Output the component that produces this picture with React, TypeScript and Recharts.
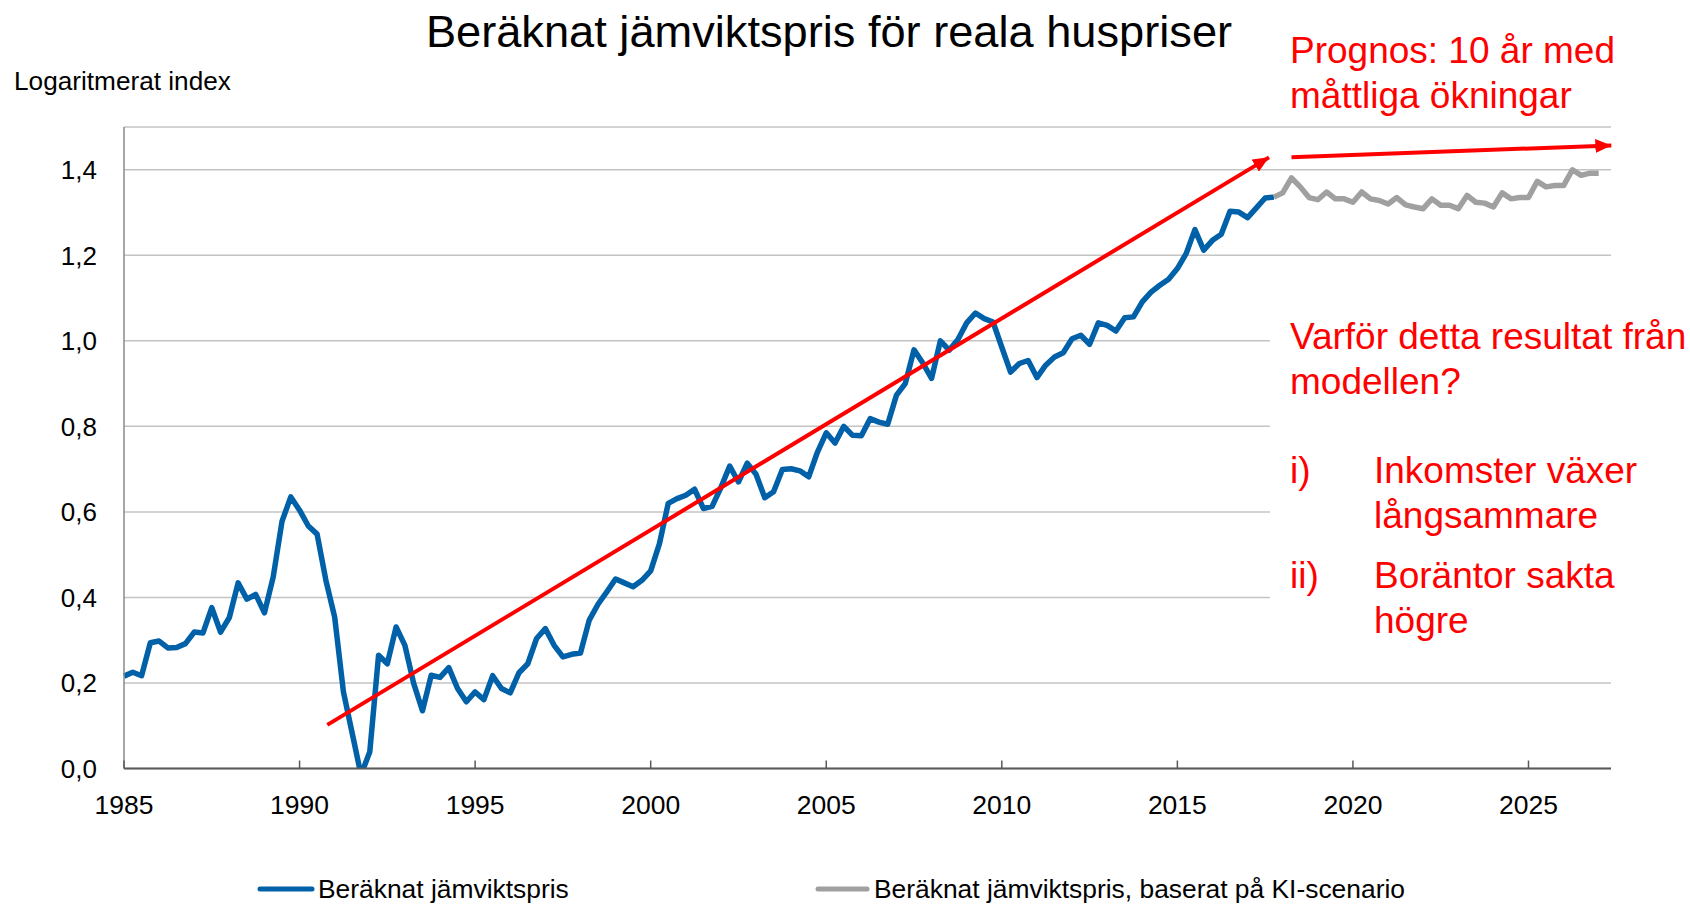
import React from "react";
import { LineChart, Line, XAxis, YAxis, CartesianGrid, ReferenceLine } from "recharts";

// quarterly values, 1985 Q1 onwards
const equilibriumPrice = [
  0.216, 0.225, 0.217, 0.294, // 1985
  0.298, 0.282, 0.283, 0.292, // 1986
  0.319, 0.317, 0.376, 0.319, // 1987
  0.353, 0.434, 0.396, 0.407, // 1988
  0.364, 0.448, 0.578, 0.635, // 1989
  0.604, 0.567, 0.548, 0.44, // 1990
  0.354, 0.179, 0.082, -0.015, // 1991
  0.039, 0.265, 0.245, 0.331, // 1992
  0.288, 0.199, 0.135, 0.218, // 1993
  0.213, 0.236, 0.187, 0.156, // 1994
  0.179, 0.161, 0.217, 0.187, // 1995
  0.177, 0.224, 0.245, 0.304, // 1996
  0.327, 0.288, 0.261, 0.267, // 1997
  0.27, 0.347, 0.384, 0.413, // 1998
  0.443, 0.434, 0.425, 0.44, // 1999
  0.462, 0.526, 0.62, 0.631, // 2000
  0.639, 0.653, 0.608, 0.613, // 2001
  0.657, 0.707, 0.67, 0.714, // 2002
  0.688, 0.633, 0.647, 0.699, // 2003
  0.701, 0.696, 0.682, 0.74, // 2004
  0.785, 0.761, 0.8, 0.779, // 2005
  0.778, 0.818, 0.81, 0.805, // 2006
  0.873, 0.9, 0.979, 0.948, // 2007
  0.912, 1.0, 0.978, 1.003, // 2008
  1.042, 1.065, 1.052, 1.044, // 2009
  0.985, 0.927, 0.947, 0.954, // 2010
  0.914, 0.943, 0.962, 0.972, // 2011
  1.005, 1.013, 0.992, 1.042, // 2012
  1.036, 1.023, 1.054, 1.056, // 2013
  1.091, 1.114, 1.13, 1.144, // 2014
  1.169, 1.204, 1.26, 1.212, // 2015
  1.235, 1.249, 1.303, 1.301, // 2016
  1.288, 1.311, 1.334, 1.336, // 2017
];

// KI scenario, starting at 2017 Q4
const kiScenario = [
  1.336,
  1.346, 1.381, 1.36, 1.335, // 2018
  1.33, 1.348, 1.332, 1.332, // 2019
  1.324, 1.348, 1.332, 1.328, // 2020
  1.32, 1.335, 1.318, 1.313, // 2021
  1.309, 1.332, 1.317, 1.317, // 2022
  1.309, 1.34, 1.324, 1.322, // 2023
  1.313, 1.346, 1.332, 1.335, // 2024
  1.335, 1.373, 1.36, 1.363, // 2025
  1.363, 1.4, 1.387, 1.392, // 2026
  1.392, // 2027
];
const scenarioStart = 131;

const yearTicks = [1985, 1990, 1995, 2000, 2005, 2010, 2015, 2020, 2025];
const valueTicks = [0, 0.2, 0.4, 0.6, 0.8, 1.0, 1.2, 1.4];

const trendArrow = [
  { x: 1990.79, y: 0.102 },
  { x: 2017.61, y: 1.429 },
];
const forecastArrow = [
  { x: 2018.25, y: 1.429 },
  { x: 2027.36, y: 1.457 },
];

const seriesNames = ["Beräknat jämviktspris", "Beräknat jämviktspris, baserat på KI-scenario"];

const rows = Array.from({ length: scenarioStart + kiScenario.length }, (_, i) => ({
  x: 1985 + i / 4,
  base: i < equilibriumPrice.length ? equilibriumPrice[i] : null,
  ki: i >= scenarioStart ? kiScenario[i - scenarioStart] : null,
}));

const FONT = "'Liberation Sans', Arial, sans-serif";
const BLUE = "#0060a8";
const GRAY = "#a0a0a0";
const RED = "#ff0000";

const TICK_MARGIN = 26.5;

function YearTick(props: any) {
  const { x, y, payload } = props;
  const axisY = y - TICK_MARGIN;
  return (
    <g>
      <line x1={x} x2={x} y1={axisY} y2={axisY - 8} stroke="#595959" strokeWidth={1.5} />
      <text x={x} y={y} dy="0.71em" textAnchor="middle" fontSize={26.5} fontFamily={FONT} fill="#000">
        {payload.value}
      </text>
    </g>
  );
}

const arrowShape = (p: any) => (
  <line x1={p.x1} y1={p.y1} x2={p.x2} y2={p.y2} stroke={RED} strokeWidth={4} markerEnd="url(#redHead)" />
);

export default function App() {
  return (
    <div style={{ position: "absolute", left: 0, top: 0, width: 1690, height: 904, background: "#fff", overflow: "hidden" }}>
      <LineChart width={1690} height={904} data={rows} margin={{ top: 127, right: 79, left: 64, bottom: 95.5 }}>
        <defs>
          <marker id="redHead" markerUnits="userSpaceOnUse" markerWidth={16} markerHeight={14} refX={16} refY={7} orient="auto">
            <path d="M0,0 L16,7 L0,14 z" fill={RED} />
          </marker>
        </defs>
        <CartesianGrid stroke="#c4c4c4" strokeWidth={1.5} vertical={false} />
        <XAxis
          dataKey="x"
          type="number"
          domain={[1985, 2027.35]}
          ticks={yearTicks}
          interval={0}
          height={40}
          tickSize={0}
          tickMargin={TICK_MARGIN}
          tickLine={false}
          tick={<YearTick />}
          axisLine={{ stroke: "#595959", strokeWidth: 2 }}
        />
        <YAxis
          domain={[0, 1.5]}
          ticks={valueTicks}
          allowDataOverflow
          width={60}
          tickSize={0}
          tickMargin={27}
          tickLine={false}
          axisLine={{ stroke: "#8a8a8a", strokeWidth: 1.5 }}
          tickFormatter={(v: number) => v.toFixed(1).replace(".", ",")}
          tick={{ fontSize: 26, fontFamily: FONT, fill: "#000" }}
        />
        <Line dataKey="base" type="linear" stroke={BLUE} strokeWidth={5.5} dot={false} strokeLinejoin="round" isAnimationActive={false} />
        <Line dataKey="ki" type="linear" stroke={GRAY} strokeWidth={5.5} dot={false} strokeLinejoin="round" isAnimationActive={false} />
        <ReferenceLine segment={trendArrow} ifOverflow="visible" shape={arrowShape} />
        <ReferenceLine segment={forecastArrow} ifOverflow="visible" shape={arrowShape} />
      </LineChart>

      <svg width={1690} height={904} style={{ position: "absolute", left: 0, top: 0, pointerEvents: "none" }} fontFamily={FONT}>
        <rect x={1270} y={300} width={420} height={355} fill="#fff" />
        <text x={829} y={47} textAnchor="middle" fontSize={45.2} fill="#000">
          Beräknat jämviktspris för reala huspriser
        </text>
        <text x={14} y={90} fontSize={26.2} fill="#000">Logaritmerat index</text>

        <g fill={RED} fontSize={37}>
          <text x={1290} y={63}>Prognos: 10 år med</text>
          <text x={1290} y={108}>måttliga ökningar</text>
          <text x={1290} y={349}>Varför detta resultat från</text>
          <text x={1290} y={394}>modellen?</text>
          <text x={1290} y={483}>i)</text>
          <text x={1374} y={483}>Inkomster växer</text>
          <text x={1374} y={528}>långsammare</text>
          <text x={1290} y={588}>ii)</text>
          <text x={1374} y={588}>Boräntor sakta</text>
          <text x={1374} y={633}>högre</text>
        </g>

        <line x1={260} x2={312} y1={889} y2={889} stroke={BLUE} strokeWidth={5} strokeLinecap="round" />
        <text x={318} y={898} fontSize={26.4} fill="#000">{seriesNames[0]}</text>
        <line x1={818} x2={867} y1={889} y2={889} stroke={GRAY} strokeWidth={5} strokeLinecap="round" />
        <text x={874} y={898} fontSize={26.4} fill="#000">{seriesNames[1]}</text>
      </svg>
    </div>
  );
}
